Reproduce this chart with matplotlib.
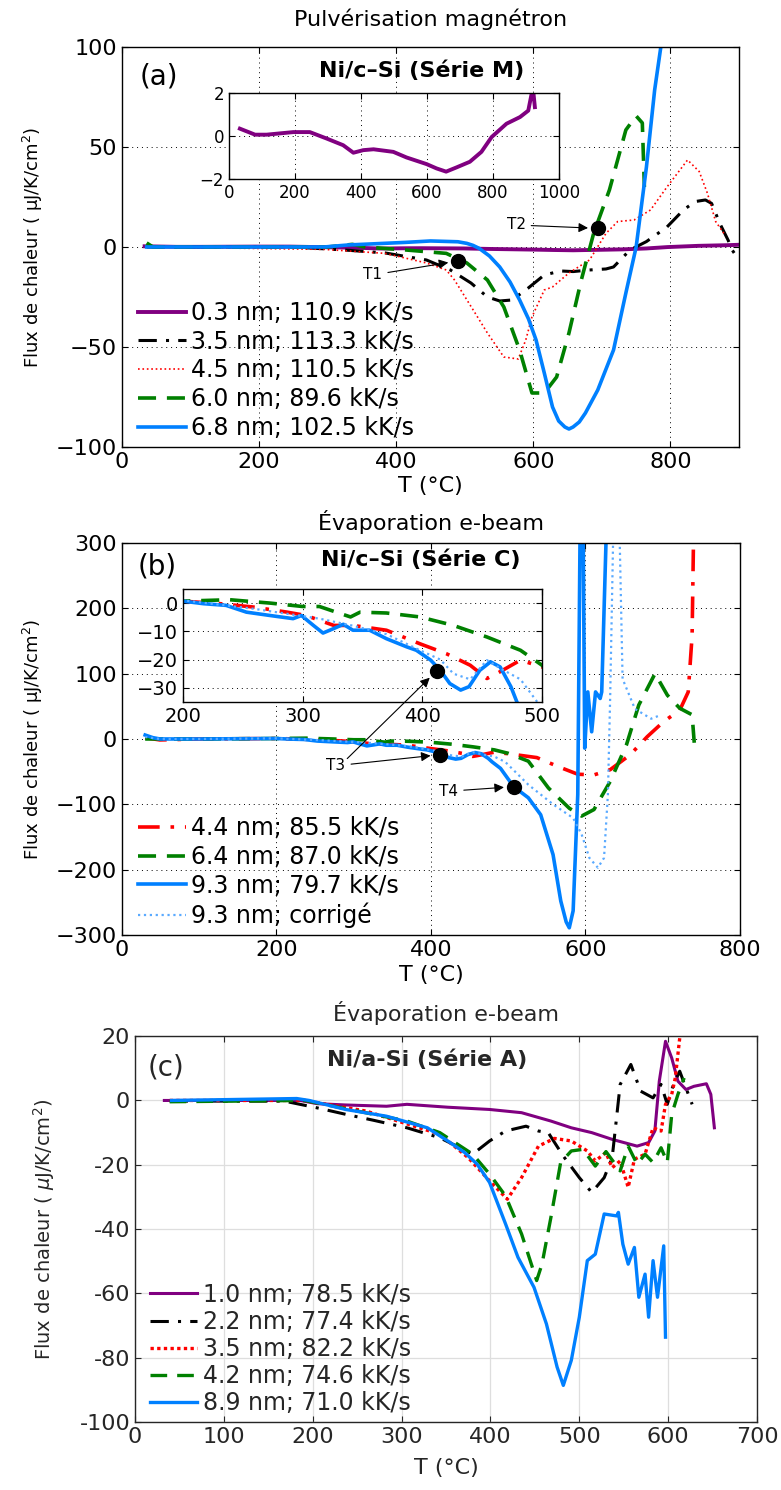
import matplotlib
matplotlib.use("Agg")
import matplotlib.pyplot as plt
from matplotlib.ticker import FuncFormatter

plt.rcParams['font.family'] = ['DejaVu Sans']

# --- (a) Pulverisation magnetron, serie M ---
a_T_03 = [33, 79, 114, 195, 245, 296, 346, 377, 407, 438, 498, 538, 599, 629, 658, 690, 730, 765, 796, 841, 882, 907, 917, 922, 927]
a_v_03 = [0.34, 0.06, 0.06, 0.18, 0.18, -0.12, -0.43, -0.78, -0.66, -0.62, -0.74, -1.0, -1.31, -1.51, -1.66, -1.46, -1.2, -0.74, -0.05, 0.57, 0.88, 1.18, 1.95, 2.1, 1.34]
a_T_35 = [36, 247, 324, 384, 444, 479, 509, 533, 551, 569, 592, 616, 640, 658, 682, 706, 717, 741, 765, 795, 819, 836, 851, 860, 872, 884, 890, 893, 900]
a_v_35 = [0, 0, -1.5, -3, -6.5, -11.5, -18, -25, -27, -26.5, -20.7, -14, -12, -12.3, -11.5, -11, -10, -1.5, 2.7, 10, 18.5, 22.7, 23.5, 21.8, 11.8, 3.5, -1.5, -3, -3]
a_T_45 = [36, 295, 384, 444, 473, 485, 515, 533, 557, 578, 589, 598, 616, 628, 652, 682, 706, 723, 747, 771, 795, 825, 842, 854, 866, 878]
a_v_45 = [0, -1.2, -3.2, -8, -11.5, -16.5, -33, -43, -55, -56, -46.5, -35, -21.5, -20, -13, -6.5, 6.8, 12.7, 13.5, 18.5, 30, 43.5, 37.7, 26.8, 12.7, 6.8]
a_T_60 = [36, 45, 57, 300, 336, 354, 414, 473, 503, 533, 557, 580, 598, 616, 634, 652, 670, 688, 711, 735, 750, 759, 762]
a_v_60 = [2, 0, 0, 0, 1.3, 0, -1.5, -3.2, -8, -16.5, -30, -51.5, -73, -73, -65, -43, -16.5, 6.8, 28.5, 58.5, 65.5, 62, 30]
a_T_68 = [36, 100, 295, 330, 414, 450, 490, 503, 512, 521, 536, 551, 566, 580, 593, 604, 616, 628, 637, 646, 652, 658, 667, 676, 694, 717, 735, 750, 765, 777, 786, 795]
a_v_68 = [0, 0, 0, 1, 2.3, 3, 2.6, 1.8, 0.8, -0.7, -4.5, -10, -17.5, -26.5, -36, -46.5, -63, -80, -87, -90, -91, -90, -87.5, -83, -71.5, -51.5, -23, 0, 40, 78.5, 100, 130]
a_labels = ["0.3 nm; 110.9 kK/s", "3.5 nm; 113.3 kK/s", "4.5 nm; 110.5 kK/s",
            "6.0 nm; 89.6 kK/s", "6.8 nm; 102.5 kK/s"]
a_marks = {"T1": ((490, -7), (366, -14)), "T2": ((694, 9.3), (575, 11))}

# --- (b) Evaporation e-beam, serie C ---
b_T_44 = [30, 49, 100, 200, 231, 259, 287, 303, 326, 342, 370, 398, 420, 440, 454, 462, 482, 500, 537, 564, 590, 611, 632, 658, 680, 701, 722, 733, 738, 740]
b_v_44 = [2, -1.5, 0, 0.7, -0.2, -1.4, -3.2, -4.4, -7.9, -7.9, -9.6, -14.4, -17.9, -22, -26.7, -25, -20.2, -22.6, -28.5, -42, -54, -55, -47, -24, 3.6, 26.4, 44, 72, 158, 320]
b_T_64 = [30, 100, 200, 239, 273, 300, 314, 328, 340, 348, 370, 398, 426, 454, 482, 500, 526, 552, 579, 595, 611, 632, 653, 669, 690, 706, 722, 738, 741]
b_v_64 = [0, 0, 0.7, 1.2, 0, -1.2, -1.2, -3.2, -4.9, -3.2, -3.5, -4.9, -7.9, -12, -16.7, -22, -34, -75, -106, -118, -108, -65, -9, 52, 100, 67, 47, 37, -9]
b_T_93 = [30, 40, 49, 100, 200, 217, 236, 253, 273, 292, 299, 309, 317, 326, 334, 342, 356, 370, 387, 395, 407, 415, 423, 432, 439, 448, 457, 465, 474, 479,
          490, 507, 526, 542, 558, 568, 575, 579, 584, 590, 593, 597, 599, 603, 608, 613, 619, 621, 627]
b_v_93 = [6, 2, 0, 0, 0.7, -0.2, -0.8, -3.2, -4.4, -5.5, -4.4, -7.9, -10.6, -9, -7.5, -9.6, -9.6, -12.6, -15.5, -16.7, -20.2, -23.8, -28.5, -30.8, -29.6, -23.8, -20.8, -22.6, -29.6, -35,
          -45, -73, -90, -116, -177, -248, -280, -289, -263, -85, 320, 320, -14, 72, 11, 72, 62, 72, 320]
b_T_cor = [30, 49, 100, 200, 259, 314, 342, 370, 398, 415, 426, 440, 454, 468, 482, 496, 526, 558, 584, 595, 605, 616, 624, 629, 632, 636, 644, 648, 664, 685, 696]
b_v_cor = [3, 0, 0, 1, -2, -5.5, -8, -11, -16.7, -20, -25, -27, -20.2, -23.8, -27, -35, -70, -100, -121, -146, -182, -197, -182, -85, 67, 320, 320, 92, 46, 31, 36]
b_labels = ["4.4 nm; 85.5 kK/s", "6.4 nm; 87.0 kK/s", "9.3 nm; 79.7 kK/s", "9.3 nm; corrigé"]
b_T3 = (412, -24)
b_T3_text = (277, -41)
b_T4 = (507, -73)
b_T4_text = (423, -80)

# --- (c) Evaporation e-beam, serie A ---
c_T_10 = [33, 186, 205, 237, 283, 306, 352, 399, 435, 468, 491, 514, 537, 565, 578, 585, 590, 597, 604, 611, 620, 629, 643, 648, 652]
c_v_10 = [0, 0, -1, -1.4, -1.8, -1.2, -2.1, -2.8, -3.8, -6.4, -8.5, -10, -12.1, -14.2, -13.1, -9.5, 6, 18.4, 13.2, 6, 3.4, 4.4, 5.2, 1.9, -8.5]
c_T_22 = [39, 168, 205, 237, 269, 306, 343, 362, 380, 399, 417, 440, 454, 465, 482, 500, 514, 528, 537, 546, 558, 569, 583, 592, 599, 606, 613, 620, 627]
c_v_22 = [-0.2, -0.2, -2.3, -4.3, -6.2, -8.5, -11.6, -14.2, -16.7, -12.6, -9.5, -8, -9.5, -10, -17.3, -24, -28.6, -24, -17.8, 5, 11.2, 2.9, 0.8, 5, -1.2, 5, 9.1, 3.9, -1.2]
c_T_35 = [39, 191, 260, 343, 375, 399, 419, 435, 454, 472, 491, 509, 518, 530, 537, 546, 555, 562, 574, 583, 592, 597, 604, 608, 613]
c_v_35 = [0, 0, -3.3, -10.5, -17.8, -25, -30.7, -24, -14.2, -11.8, -12.6, -15.7, -18.8, -16.2, -20.9, -18.8, -27, -18.3, -16.7, -8.5, -9.5, -1.2, 1.9, 7, 19.4]
c_T_42 = [39, 191, 306, 343, 380, 399, 417, 435, 452, 458, 468, 479, 491, 504, 518, 530, 546, 555, 565, 574, 583, 592, 599, 604, 611, 618]
c_v_42 = [-0.4, 0, -6.4, -10, -16.7, -22.9, -29.7, -41.5, -56, -50.9, -36.4, -19.3, -15.7, -15.2, -20.4, -15.9, -21.9, -14.2, -19.8, -16.7, -19.3, -14.7, -19.3, -4.3, 1.9, 7]
c_T_89 = [41, 182, 196, 237, 283, 329, 352, 371, 385, 399, 417, 431, 449, 463, 475, 482, 491, 500, 509, 518, 528, 542, 544, 549, 555, 562, 567, 574, 578, 583, 588, 595, 597]
c_v_89 = [0, 0.6, 0, -2.8, -4.9, -8.5, -12.6, -16.2, -19.8, -25.5, -38.4, -48.8, -58.1, -69.5, -82.9, -88.6, -80.8, -67.4, -49.8, -47.8, -35.3, -35.9, -34.8, -44.7, -50.9, -45.7, -61.2, -54, -67.4, -49.8, -61.2, -45.2, -73.6]
c_labels = ["1.0 nm; 78.5 kK/s", "2.2 nm; 77.4 kK/s", "3.5 nm; 82.2 kK/s",
            "4.2 nm; 74.6 kK/s", "8.9 nm; 71.0 kK/s"]

PURPLE = "#800080"
BLUE = "#0080ff"
LBLUE = "#5aaaff"
DASHDOT = (0, (6, 3, 1, 3))
DASH = (0, (5, 3))

ylab = "Flux de chaleur ( μJ/K/cm$^2$)"
ylab_c = "Flux de chaleur ( $\\mu$J/K/cm$^2$)"

fig = plt.figure(figsize=(7.81, 14.9), dpi=100)


def matlab_axes(ax, fs=16):
    ax.tick_params(direction="in", top=True, right=True, labelsize=fs, length=4)
    ax.grid(True, linestyle=(0, (1, 4)), color="k", linewidth=0.7)
    for s in ax.spines.values():
        s.set_linewidth(1.0)


leg_kw = dict(loc="lower left", frameon=False, fontsize=17, handlelength=2.0,
              handletextpad=0.25, labelspacing=0.2, borderaxespad=0.1, borderpad=0.2,
              bbox_to_anchor=(0.015, 0.0))

# ---------- panel (a) ----------
ax_a = fig.add_axes([0.1562, 0.7000, 0.7900, 0.2685])
ax_a.plot(a_T_03, a_v_03, color=PURPLE, lw=2.8, label=a_labels[0])
ax_a.plot(a_T_35, a_v_35, color="k", lw=2.2, linestyle=DASHDOT, label=a_labels[1])
ax_a.plot(a_T_45, a_v_45, color="red", lw=1.2, linestyle=":", label=a_labels[2])
ax_a.plot(a_T_60, a_v_60, color="green", lw=2.6, linestyle=DASH, label=a_labels[3])
ax_a.plot(a_T_68, a_v_68, color=BLUE, lw=2.6, label=a_labels[4])
ax_a.set_xlim(0, 900)
ax_a.set_ylim(-100, 100)
ax_a.set_xticks([0, 200, 400, 600, 800])
ax_a.set_yticks([-100, -50, 0, 50, 100])
matlab_axes(ax_a)
ax_a.set_title("Pulvérisation magnétron", fontsize=16, pad=15)
ax_a.set_xlabel("T (°C)", fontsize=16, labelpad=3)
ax_a.set_ylabel(ylab, fontsize=13)
ax_a.yaxis.set_label_coords(-0.125, 0.5)
ax_a.text(0.06, 0.925, "(a)", transform=ax_a.transAxes, fontsize=20, ha="center", va="center")
ax_a.text(0.486, 0.94, "Ni/c–Si (Série M)", transform=ax_a.transAxes, fontsize=16,
          fontweight="bold", ha="center", va="center")
for name, (pt, tp) in a_marks.items():
    ax_a.plot(*pt, "ko", ms=10, zorder=5)
    ax_a.annotate(name, xy=pt, xytext=tp, fontsize=11, ha="center", va="center",
                  arrowprops=dict(arrowstyle="-|>", color="k", lw=0.8, shrinkB=7, mutation_scale=14))
ax_a.legend(**leg_kw)

ax_ai = fig.add_axes([0.2932, 0.8799, 0.4225, 0.0577])
ax_ai.plot(a_T_03, a_v_03, color=PURPLE, lw=2.8)
ax_ai.set_xlim(0, 1000)
ax_ai.set_ylim(-2, 2)
ax_ai.set_xticks([0, 200, 400, 600, 800, 1000])
ax_ai.set_yticks([-2, 0, 2])
matlab_axes(ax_ai, fs=12)

# ---------- panel (b) ----------
ax_b = fig.add_axes([0.1562, 0.3725, 0.7913, 0.2631])
ax_b.plot(b_T_44, b_v_44, color="red", lw=2.6, linestyle=DASHDOT, label=b_labels[0])
ax_b.plot(b_T_64, b_v_64, color="green", lw=2.6, linestyle=DASH, label=b_labels[1])
ax_b.plot(b_T_93, b_v_93, color=BLUE, lw=2.6, label=b_labels[2])
ax_b.plot(b_T_cor, b_v_cor, color=LBLUE, lw=1.6, linestyle=":", label=b_labels[3])
ax_b.set_xlim(0, 800)
ax_b.set_ylim(-300, 300)
ax_b.set_xticks([0, 200, 400, 600, 800])
ax_b.set_yticks([-300, -200, -100, 0, 100, 200, 300])
matlab_axes(ax_b)
ax_b.set_title("Évaporation e-beam", fontsize=16, pad=9)
ax_b.set_xlabel("T (°C)", fontsize=16, labelpad=4)
ax_b.set_ylabel(ylab, fontsize=13)
ax_b.yaxis.set_label_coords(-0.125, 0.5)
ax_b.text(0.057, 0.94, "(b)", transform=ax_b.transAxes, fontsize=20, ha="center", va="center")
ax_b.text(0.484, 0.957, "Ni/c–Si (Série C)", transform=ax_b.transAxes, fontsize=16,
          fontweight="bold", ha="center", va="center")
ax_b.plot(*b_T3, "ko", ms=10, zorder=5)
ax_b.plot(*b_T4, "ko", ms=10, zorder=5)
arrow = dict(arrowstyle="-|>", color="k", lw=0.8, shrinkB=7, mutation_scale=14)
ax_b.annotate("T3", xy=b_T3, xytext=b_T3_text, fontsize=11, ha="center", va="center", arrowprops=arrow)
ax_b.annotate("T4", xy=b_T4, xytext=b_T4_text, fontsize=11, ha="center", va="center", arrowprops=arrow)
ax_b.legend(**leg_kw)

ax_bi = fig.add_axes([0.2343, 0.5289, 0.4597, 0.0758])
ax_bi.plot(b_T_44, b_v_44, color="red", lw=2.6, linestyle=DASHDOT)
ax_bi.plot(b_T_64, b_v_64, color="green", lw=2.6, linestyle=DASH)
ax_bi.plot(b_T_93, b_v_93, color=BLUE, lw=2.6)
ax_bi.plot(b_T_cor, b_v_cor, color=LBLUE, lw=1.6, linestyle=":")
ax_bi.plot(*b_T3, "ko", ms=10, zorder=5)
ax_bi.set_xlim(200, 500)
ax_bi.set_ylim(-35, 5)
ax_bi.set_xticks([200, 300, 400, 500])
ax_bi.set_yticks([-30, -20, -10, 0])
matlab_axes(ax_bi, fs=14)
ax_bi.annotate("", xy=b_T3, xycoords="data", xytext=(b_T3_text[0] + 12, b_T3_text[1] + 8),
               textcoords=ax_b.transData, arrowprops=arrow, annotation_clip=False)

# ---------- panel (c) ----------
GREY = "#262626"
ax_c = fig.add_axes([0.1729, 0.0456, 0.7964, 0.2590])
ax_c.plot(c_T_10, c_v_10, color=PURPLE, lw=2.2, label=c_labels[0])
ax_c.plot(c_T_22, c_v_22, color="k", lw=2.2, linestyle=DASHDOT, label=c_labels[1])
ax_c.plot(c_T_35, c_v_35, color="red", lw=2.4, linestyle=(0, (1, 1)), label=c_labels[2])
ax_c.plot(c_T_42, c_v_42, color="green", lw=2.4, linestyle=DASH, label=c_labels[3])
ax_c.plot(c_T_89, c_v_89, color=BLUE, lw=2.4, label=c_labels[4])
ax_c.set_xlim(0, 700)
ax_c.set_ylim(-100, 20)
ax_c.set_xticks(range(0, 701, 100))
ax_c.set_yticks(range(-100, 21, 20))
ax_c.yaxis.set_major_formatter(FuncFormatter(lambda v, p: f"{int(v)}"))
ax_c.tick_params(direction="in", top=True, right=True, labelsize=16, length=4, colors=GREY)
ax_c.grid(True, color="#dedede", linewidth=0.9)
ax_c.set_axisbelow(True)
for s in ax_c.spines.values():
    s.set_color(GREY)
    s.set_linewidth(1.0)
ax_c.set_title("Évaporation e-beam", fontsize=16, pad=11, color=GREY)
ax_c.set_xlabel("T (°C)", fontsize=16, labelpad=8, color=GREY)
ax_c.set_ylabel(ylab_c, fontsize=14, color=GREY)
ax_c.yaxis.set_label_coords(-0.125, 0.5)
ax_c.text(0.05, 0.92, "(c)", transform=ax_c.transAxes, fontsize=20, ha="center", va="center", color=GREY)
ax_c.text(0.47, 0.94, "Ni/a-Si (Série A)", transform=ax_c.transAxes, fontsize=16,
          fontweight="bold", ha="center", va="center", color=GREY)
leg_c = dict(leg_kw, labelspacing=0.13, bbox_to_anchor=(0.012, 0.0))
leg = ax_c.legend(**leg_c)
for t in leg.get_texts():
    t.set_color(GREY)

fig.savefig("out.png", dpi=100)
